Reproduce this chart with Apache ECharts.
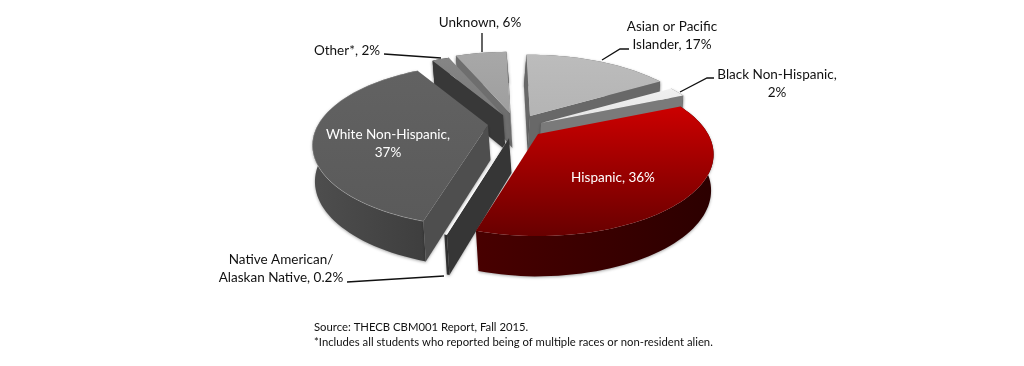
<!DOCTYPE html>
<html><head><meta charset="utf-8">
<style>html,body{margin:0;padding:0;background:#fff}#c{width:1024px;height:366px}</style>
<script src="https://cdn.jsdelivr.net/npm/echarts@6/dist/echarts.min.js"></script>
</head><body><div id="c"></div>
<script>
var categories = ["Asian or Pacific Islander","Black Non-Hispanic","Hispanic","Native American/ Alaskan Native","White Non-Hispanic","Other*","Unknown"];
var shares = [17,2,36,0.2,37,2,6];
var explodeX = [14,25,22,-7,-28,-13,-6];
var explodeY = [-9,-2,9,13,0,-10,-12];
var drawOrder = [2,3,6,4,5,1,0]; // painter rank per slice
var topColors = [["#bcbcbc","#b4b4b4"],["#f0f0f0","#e4e4e4"],["#cc0000","#680000"],["#ffffff","#ffffff"],["#626262","#5a5a5a"],["#858585","#7b7b7b"],["#a8a8a8","#9e9e9e"]];
var wallColors = [["#686868","#5c5c5c"],["#7a7a7a","#666666"],["#480000","#2c0000"],["#363636","#303030"],["#4e4e4e","#3e3e3e"],["#383838","#2e2e2e"],["#6e6e6e","#5c5c5c"]];
var view = {cx:516,cy:125,R:170,tilt:0.45,persp:0.25,height:35,rotate:-1.5,vanishX:518};
var total = shares.reduce(function(a,b){return a+b;},0);
var rad = Math.PI/180;

function sliceAngles(i){
  var a = view.rotate;
  for(var k=0;k<i;k++) a += shares[k]/total*360;
  return [a, a+shares[i]/total*360];
}
function pt(ox,oy,u,v,low){
  var s = 1/(1+view.persp*v);
  var x = view.cx + ox + view.R*u*s;
  var y = view.cy + oy - view.R*view.tilt*v*s;
  if(low){
    y += view.height*Math.sqrt(s);
    var sh = (view.vanishX-x)*0.3;
    x += Math.max(-2.5,Math.min(2.5,sh));
  }
  return [x,y];
}
function grad(c,horizontal){
  return new echarts.graphic.LinearGradient(0,0,horizontal?1:0,horizontal?0:1,[{offset:0,color:c[0]},{offset:1,color:c[1]}]);
}
function area(p){var s=0;for(var i=0;i<p.length;i++){var q=p[(i+1)%p.length];s+=p[i][0]*q[1]-q[0]*p[i][1];}return s/2;}

function renderSlice(params,api){
  var i = api.value(0);
  var ang = sliceAngles(i);
  var ox=explodeX[i], oy=explodeY[i];
  var arcT=[],arcB=[],n=Math.max(2,Math.ceil((ang[1]-ang[0])/2));
  for(var k=0;k<=n;k++){
    var t=(ang[0]+(ang[1]-ang[0])*k/n)*rad, u=Math.sin(t), v=Math.cos(t);
    arcT.push(pt(ox,oy,u,v,false)); arcB.push(pt(ox,oy,u,v,true));
  }
  var apT=pt(ox,oy,0,0,false), apB=pt(ox,oy,0,0,true);
  var base=drawOrder[i]*10, kids=[];
  var shadow={shadowColor:"rgba(0,0,0,0.35)",shadowBlur:3,shadowOffsetY:1};
  kids.push({type:"polygon",z2:base,shape:{points:arcT.concat(arcB.slice().reverse())},
    style:Object.assign({fill:grad(wallColors[i],true)},shadow)});
  var w1=[apT,arcT[0],arcB[0],apB], w2=[arcT[n],apT,apB,arcB[n]];
  [w1,w2].forEach(function(w,j){
    if(area(w)<0) kids.push({type:"polygon",z2:base+1+j,shape:{points:w},
      style:Object.assign({fill:wallColors[i][0]},shadow)});
  });
  kids.push({type:"polygon",z2:base+5,shape:{points:[apT].concat(arcT)},style:{fill:grad(topColors[i],false)}});
  if(i===4) kids.push({type:"polyline",z2:base+6,shape:{points:arcT},style:{fill:null,stroke:"rgba(255,255,255,0.22)",lineWidth:1}});
  return {type:"group",children:kids};
}

var font = "Lato, 'Open Sans', sans-serif";
function lbl(text,x,y,color,size,align){
  return {type:"text",z:10,x:x,y:y,style:{text:text,fill:color||"#111",font:(size||13.5)+"px "+font,align:align||"center",verticalAlign:"middle",lineHeight:18}};
}
function leader(points){
  return {type:"polyline",z:10,shape:{points:points},style:{stroke:"#111",lineWidth:1.3,fill:null}};
}
var note1="Source: THECB CBM001 Report, Fall 2015.";
var note2="*Includes all students who reported being of multiple races or non-resident alien.";
var graphics=[
  lbl(categories[6]+", "+shares[6]+"%",480,23),
  lbl(categories[5]+", "+shares[5]+"%",347,51),
  lbl("Asian or Pacific\nIslander, "+shares[0]+"%",672,36),
  lbl(categories[1]+",\n"+shares[1]+"%",777,84),
  lbl("Native American/\nAlaskan Native, "+shares[3]+"%",281,269),
  lbl(categories[4]+",\n"+shares[4]+"%",388,144,"#fff"),
  lbl(categories[2]+", "+shares[2]+"%",613,178,"#fff"),
  lbl(note1,314,327,"#111",11.3,"left"),
  lbl(note2,314,342,"#111",11.3,"left"),
  leader([[482,33],[482,52]]),
  leader([[384,54],[441,58]]),
  leader([[629,49],[620,49],[602,60]]),
  leader([[714,78],[707,78],[680,92]]),
  leader([[347,282],[444,276]])
];
var chart = echarts.init(document.getElementById("c"),null,{renderer:"canvas"});
chart.setOption({
  animation:false,
  backgroundColor:"#fff",
  graphic:graphics,
  series:[{type:"custom",coordinateSystem:"none",renderItem:renderSlice,silent:true,
    data:shares.map(function(v,i){return [i,v];})}]
});
</script></body></html>
